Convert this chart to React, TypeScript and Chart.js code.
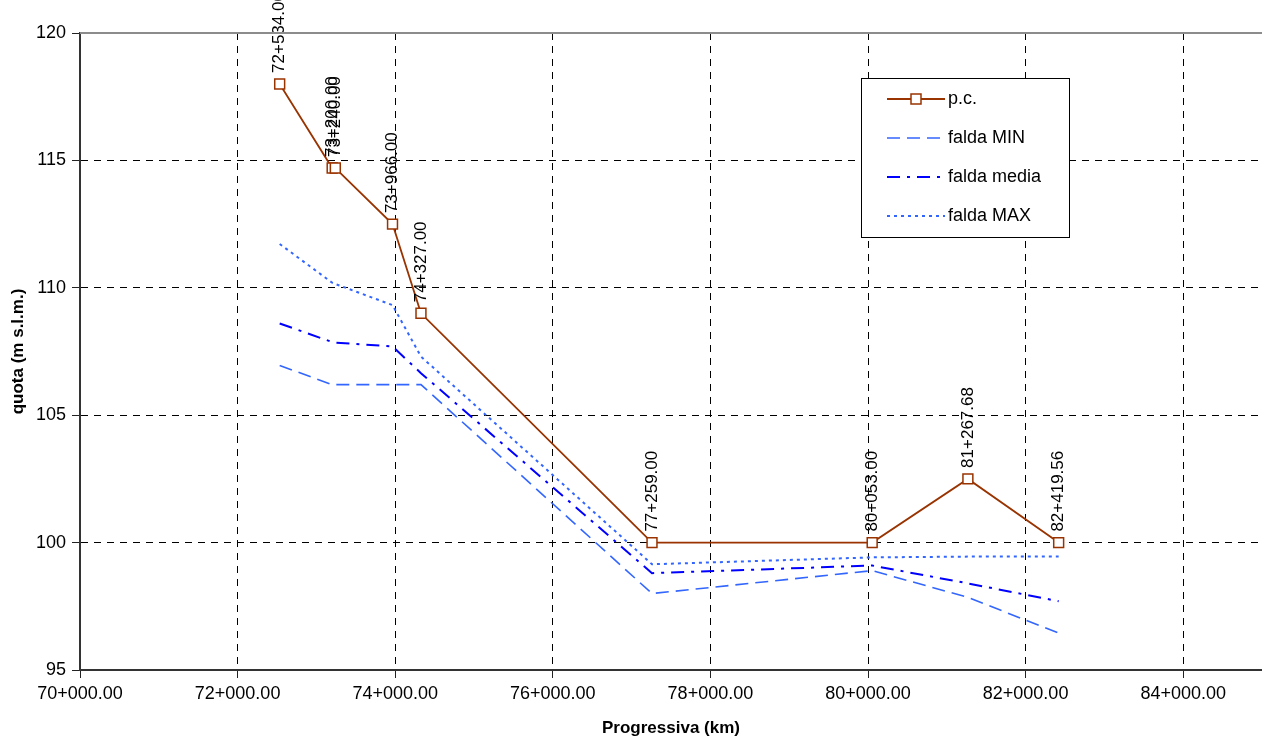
import React, { useEffect, useRef } from "react";
import { Chart, registerables } from "chart.js";

Chart.register(...registerables);

// Progressiva (m) of each section
const progressive = [72534, 73200, 73240, 73966, 74327, 77259, 80053, 81267.68, 82419.56];
// p.c. quota (m s.l.m.)
const pcQuota = [118.0, 114.7, 114.7, 112.5, 109.0, 100.0, 100.0, 102.5, 100.0];
// groundwater levels
const faldaMin = [106.95, 106.2, 106.2, 106.2, 106.2, 98.0, 98.9, 97.85, 96.45];
const faldaMedia = [108.6, 107.87, 107.85, 107.7, 106.65, 98.8, 99.1, 98.4, 97.7];
const faldaMax = [111.72, 110.2, 110.15, 109.32, 107.3, 99.15, 99.42, 99.45, 99.45];

const seriesNames = ["p.c.", "falda MIN", "falda media", "falda MAX"];
const xTickValues = [70000, 72000, 74000, 76000, 78000, 80000, 82000, 84000];
const yTickValues = [95, 100, 105, 110, 115, 120];
const xTitle = "Progressiva (km)";
const yTitle = "quota (m s.l.m.)";

const FONT = "'Liberation Sans', Arial, Helvetica, sans-serif";

function fmtKm(v: number): string {
  const km = Math.floor(v / 1000);
  const m = v - km * 1000;
  return `${km}+${m.toFixed(2).padStart(6, "0")}`;
}

const toPts = (ys: number[]) => ys.map((y, i) => ({ x: progressive[i], y }));

const pointLabelPlugin = {
  id: "pointLabels",
  afterDatasetsDraw(chart: any) {
    const meta = chart.getDatasetMeta(0);
    const ctx = chart.ctx;
    ctx.save();
    ctx.fillStyle = "#000";
    ctx.font = `17px ${FONT}`;
    ctx.textAlign = "left";
    ctx.textBaseline = "middle";
    meta.data.forEach((pt: any, i: number) => {
      ctx.save();
      ctx.translate(pt.x, pt.y - 11);
      ctx.rotate(-Math.PI / 2);
      ctx.fillText(fmtKm(progressive[i]), 0, 0);
      ctx.restore();
    });
    ctx.restore();
  },
};

const frameLegendPlugin = {
  id: "frameLegend",
  afterDraw(chart: any) {
    const ctx = chart.ctx;
    const area = chart.chartArea;
    ctx.save();
    // top frame line
    ctx.strokeStyle = "#8c8c8c";
    ctx.lineWidth = 2;
    ctx.setLineDash([]);
    ctx.beginPath();
    ctx.moveTo(area.left, area.top);
    ctx.lineTo(area.right, area.top);
    ctx.stroke();

    // legend box
    const x0 = 861, y0 = 78, w = 208, h = 159;
    ctx.fillStyle = "#ffffff";
    ctx.fillRect(x0, y0, w, h);
    ctx.strokeStyle = "#000";
    ctx.lineWidth = 1;
    ctx.strokeRect(x0 + 0.5, y0 + 0.5, w, h);
    chart.data.datasets.forEach((ds: any, i: number) => {
      const cy = y0 + 21 + i * 39;
      ctx.save();
      ctx.strokeStyle = ds.borderColor;
      ctx.lineWidth = ds.borderWidth;
      ctx.setLineDash(ds.borderDash || []);
      ctx.beginPath();
      ctx.moveTo(887, cy);
      ctx.lineTo(945, cy);
      ctx.stroke();
      ctx.setLineDash([]);
      if (ds.pointRadius > 0) {
        ctx.fillStyle = ds.pointBackgroundColor;
        ctx.strokeStyle = ds.pointBorderColor;
        ctx.lineWidth = ds.pointBorderWidth;
        ctx.fillRect(911, cy - 5, 10, 10);
        ctx.strokeRect(911, cy - 5, 10, 10);
      }
      ctx.fillStyle = "#000";
      ctx.font = `18px ${FONT}`;
      ctx.textAlign = "left";
      ctx.textBaseline = "middle";
      ctx.fillText(ds.label, 948, cy);
      ctx.restore();
    });
    ctx.restore();
  },
};

export default function App() {
  const canvasRef = useRef<HTMLCanvasElement | null>(null);

  useEffect(() => {
    if (!canvasRef.current) return;
    const chart = new Chart(canvasRef.current, {
      type: "line",
      data: {
        datasets: [
          {
            label: seriesNames[0],
            data: toPts(pcQuota),
            borderColor: "#993300",
            borderWidth: 1.8,
            pointStyle: "rect",
            pointRadius: 7,
            pointHoverRadius: 7,
            pointBackgroundColor: "#ffffff",
            pointBorderColor: "#993300",
            pointBorderWidth: 1.5,
            tension: 0,
          },
          {
            label: seriesNames[1],
            data: toPts(faldaMin),
            borderColor: "#3366ff",
            borderWidth: 1.6,
            borderDash: [13, 7],
            pointRadius: 0,
            tension: 0,
          },
          {
            label: seriesNames[2],
            data: toPts(faldaMedia),
            borderColor: "#0000ff",
            borderWidth: 2,
            borderDash: [13, 7, 3, 7],
            pointRadius: 0,
            tension: 0,
          },
          {
            label: seriesNames[3],
            data: toPts(faldaMax),
            borderColor: "#3366ff",
            borderWidth: 2,
            borderDash: [3, 4],
            pointRadius: 0,
            tension: 0,
          },
        ] as any,
      },
      options: {
        responsive: false,
        animation: false,
        events: [],
        layout: { autoPadding: false, padding: { top: 33, right: 0, left: 0, bottom: 0 } },
        plugins: {
          legend: { display: false },
          tooltip: { enabled: false },
        },
        scales: {
          x: {
            type: "linear",
            min: 70000,
            max: 85000,
            afterBuildTicks: (scale: any) => {
              scale.ticks = xTickValues.map((v) => ({ value: v }));
            },
            afterFit: (scale: any) => {
              scale.height = 70;
              scale.paddingLeft = 0;
              scale.paddingRight = 0;
            },
            ticks: {
              color: "#000",
              font: { family: FONT, size: 18 },
              padding: 5,
              maxRotation: 0,
              autoSkip: false,
              callback: (v: any) => fmtKm(Number(v)),
            },
            grid: {
              color: "#000",
              lineWidth: 1,
              tickLength: 8,
              tickColor: "#222",
              tickWidth: 1,
              tickBorderDash: [],
            } as any,
            border: { display: true, color: "#333", width: 2, dash: [7, 6] },
            title: {
              display: true,
              text: xTitle,
              color: "#000",
              font: { family: FONT, size: 17, weight: "bold" },
              padding: { top: 0, bottom: 1 },
            },
          },
          y: {
            type: "linear",
            min: 95,
            max: 120,
            afterBuildTicks: (scale: any) => {
              scale.ticks = yTickValues.map((v) => ({ value: v }));
            },
            afterFit: (scale: any) => {
              scale.width = 80;
              scale.paddingTop = 0;
              scale.paddingBottom = 0;
            },
            ticks: {
              color: "#000",
              font: { family: FONT, size: 18 },
              padding: 6,
              callback: (v: any) => String(v),
            },
            grid: {
              color: "#000",
              lineWidth: 1,
              tickLength: 8,
              tickColor: "#222",
              tickWidth: 1,
              tickBorderDash: [],
            } as any,
            border: { display: true, color: "#333", width: 2, dash: [7, 6] },
            title: {
              display: true,
              text: yTitle,
              color: "#000",
              font: { family: FONT, size: 17, weight: "bold" },
              padding: { top: 8, bottom: 0 },
            },
          },
        },
      } as any,
      plugins: [pointLabelPlugin, frameLegendPlugin],
    });
    return () => chart.destroy();
  }, []);

  return (
    <div style={{ position: "fixed", left: 0, top: 0, width: 1262, height: 740, background: "#fff" }}>
      <canvas ref={canvasRef} width={1262} height={740} style={{ display: "block" }} />
    </div>
  );
}
